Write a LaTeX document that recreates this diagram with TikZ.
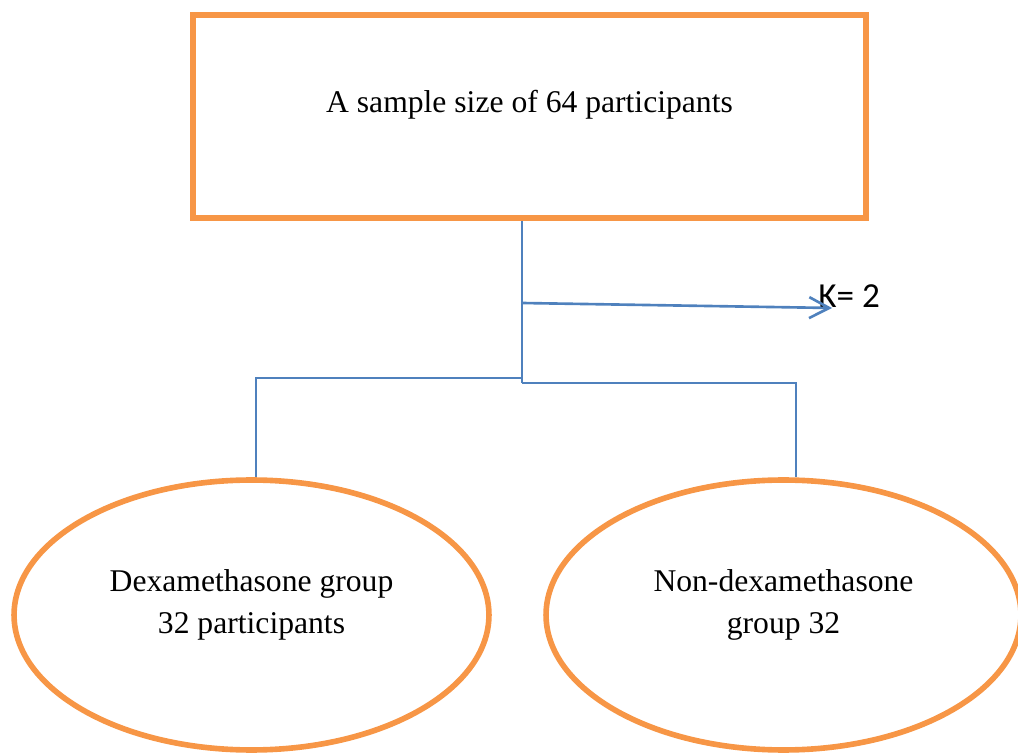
\documentclass[tikz,border=0pt]{standalone}
\usepackage{fontspec}
\setmainfont{Liberation Serif}
\newfontfamily\calibrifont{Carlito}
\usetikzlibrary{shapes.geometric,arrows.meta}
\definecolor{boxorange}{HTML}{F79646}
\definecolor{linkblue}{HTML}{4F81BD}

\begin{document}
\begin{tikzpicture}[x=0.02cm,y=-0.02cm,
	box/.style={draw=boxorange,line width=3.2pt,inner sep=0pt,font=\fontsize{18}{24.4}\selectfont},
	link/.style={draw=linkblue,line width=1.5pt}]
	\useasboundingbox (0,0) rectangle (1018,756);
	% boxes
	\node[box,rectangle,minimum width=13.46cm,minimum height=4.06cm,text depth=0.6cm] (sample) at (529.5,116.5) {A sample size of 64 participants};
	\node[box,ellipse,minimum width=9.5cm,minimum height=5.4cm,align=center,text depth=0.54cm] (dexa) at (251.5,615) {Dexamethasone group\\32 participants};
	\node[box,ellipse,minimum width=9.5cm,minimum height=5.4cm,align=center,text depth=0.54cm] (nondexa) at (783.5,615) {Non-dexamethasone\\group 32};
	\node[anchor=base west,inner sep=0pt,font=\calibrifont\fontsize{20}{24}\selectfont] (kval) at (818,308) {K= 2};
	% connectors
	\coordinate (hub) at (522,383);
	\coordinate (tap) at (522,303);
	\coordinate (lbend) at (256,378);
	\coordinate (rbend) at (796,383);
	\draw[link] (sample.south -| hub) -- (hub);
	\draw[link,-{Straight Barb[length=0.4cm,width=0.42cm]}] (tap) -- ([xshift=0.28cm]kval.base west);
	\draw[link] (hub |- lbend) -- (lbend) -- (lbend |- dexa.north);
	\draw[link] (hub) -- (rbend) -- (rbend |- nondexa.north);
\end{tikzpicture}
\end{document}
